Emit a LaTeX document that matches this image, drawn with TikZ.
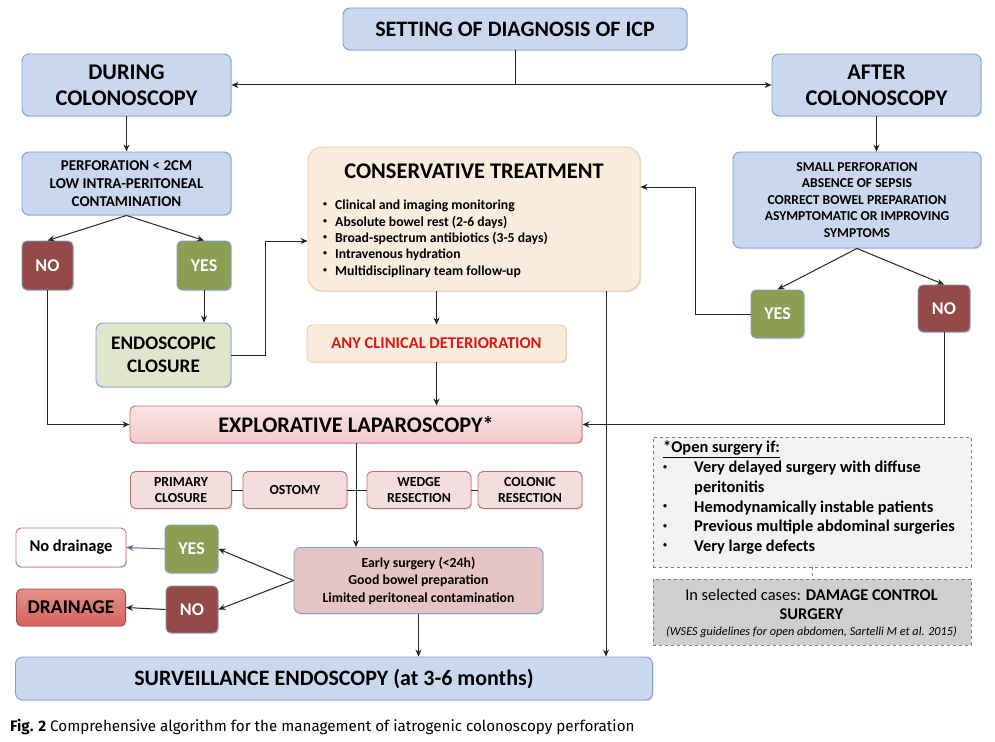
\documentclass[tikz,border=0pt]{standalone}
\usepackage{fontspec}
\setmainfont{Carlito}
\newfontfamily\capfont{Fira Sans}
\usetikzlibrary{arrows.meta,shadows}
\definecolor{bfill}{RGB}{201,216,238}
\definecolor{bdraw}{RGB}{125,158,208}
\definecolor{redbox}{RGB}{148,74,70}
\definecolor{greenbox}{RGB}{140,158,82}
\definecolor{endofill}{RGB}{223,230,203}
\definecolor{consfill}{RGB}{251,237,222}
\definecolor{consdraw}{RGB}{244,200,150}
\definecolor{explfill}{RGB}{244,212,212}
\definecolor{expldraw}{RGB}{200,110,108}
\definecolor{optfill}{RGB}{243,221,221}
\definecolor{earlyfill}{RGB}{230,196,196}
\definecolor{drainfill}{RGB}{215,98,92}
\definecolor{draindraw}{RGB}{170,70,65}
\definecolor{openfill}{RGB}{242,242,242}
\definecolor{dmgfill}{RGB}{207,207,207}
\definecolor{redtext}{RGB}{222,22,22}
\definecolor{purplearrow}{RGB}{105,100,140}
\newcommand{\smallbul}{\raisebox{0.22em}{\fontsize{8}{8}\selectfont\textbullet}}
\begin{document}
\begin{tikzpicture}[x=1pt,y=-1pt,
  box/.style={draw, rounded corners=7pt, line width=0.9pt, align=center, inner sep=0pt,
    font=\bfseries, drop shadow={shadow xshift=1.2pt, shadow yshift=-1.2pt, opacity=0.25}},
  bluebox/.style={box, fill=bfill, draw=bdraw},
  nobox/.style={box, rounded corners=5pt, fill=redbox, draw=bdraw, text=white, font=\bfseries\fontsize{18}{20}\selectfont},
  yesbox/.style={box, rounded corners=5pt, fill=greenbox, draw=bdraw, text=white, font=\bfseries\fontsize{18}{20}\selectfont},
  optbox/.style={box, rounded corners=5pt, fill=optfill, draw=expldraw, font=\bfseries\fontsize{13.8}{16.5}\selectfont},
  conn/.style={line width=1pt, draw=black!85},
  arr/.style={conn, -{Stealth[length=7pt,width=6pt]}},
]
\useasboundingbox (0,0) rectangle (995,741);
\fill[white] (0,0) rectangle (995,741);

% top
\node[bluebox, minimum width=344pt, minimum height=42pt, font=\bfseries\fontsize{22}{24}\selectfont] (set) at (515,29) {SETTING OF DIAGNOSIS OF ICP};
\node[bluebox, minimum width=209pt, minimum height=62pt, font=\bfseries\fontsize{22.4}{26}\selectfont] (during) at (126.5,85) {DURING\\COLONOSCOPY};
\node[bluebox, minimum width=209pt, minimum height=62pt, font=\bfseries\fontsize{22.4}{26}\selectfont] (after) at (876.5,85) {AFTER\\COLONOSCOPY};
\node[bluebox, minimum width=209pt, minimum height=63pt, font=\bfseries\fontsize{15}{18}\selectfont] (perf) at (126.5,183.5) {PERFORATION {<} 2CM\\LOW INTRA-PERITONEAL\\CONTAMINATION};
\node[bluebox, minimum width=248pt, minimum height=96pt, font=\bfseries\fontsize{13.6}{16.5}\selectfont] (small) at (857,200) {SMALL PERFORATION\\ABSENCE OF SEPSIS\\CORRECT BOWEL PREPARATION\\ASYMPTOMATIC OR IMPROVING\\SYMPTOMS};

\node[nobox, minimum width=51pt, minimum height=49pt] (no1) at (47.5,265.5) {NO};
\node[yesbox, minimum width=54pt, minimum height=49pt] (yes1) at (204,265.5) {YES};
\node[box, fill=endofill, draw=bdraw, minimum width=135pt, minimum height=64pt, font=\bfseries\fontsize{19.2}{23}\selectfont] (endo) at (163.5,355) {ENDOSCOPIC\\CLOSURE};

\node[box, rounded corners=14pt, fill=consfill, draw=consdraw, minimum width=332pt, minimum height=144pt] (cons) at (474,219) {};
\node[font=\bfseries\fontsize{22.4}{24}\selectfont, inner sep=0pt] (constitle) at (474,171) {CONSERVATIVE TREATMENT};
\node[font=\bfseries\fontsize{13.7}{16.3}\selectfont, align=left, anchor=north west, inner sep=0pt] (conslist) at (323,200)
  {\makebox[12pt][l]{\smallbul}Clinical and imaging monitoring\\
   \makebox[12pt][l]{\smallbul}Absolute bowel rest (2-6 days)\\
   \makebox[12pt][l]{\smallbul}Broad-spectrum antibiotics (3-5 days)\\
   \makebox[12pt][l]{\smallbul}Intravenous hydration\\
   \makebox[12pt][l]{\smallbul}Multidisciplinary team follow-up};

\node[yesbox, minimum width=53pt, minimum height=48pt] (yes2) at (777.5,314) {YES};
\node[nobox, minimum width=52pt, minimum height=47pt] (no2) at (944,308.5) {NO};

\node[box, rounded corners=5pt, fill=consfill, draw=consdraw, minimum width=259pt, minimum height=37pt, text=redtext, font=\bfseries\fontsize{16.5}{18}\selectfont] (any) at (436.5,343.5) {ANY CLINICAL DETERIORATION};

\node[box, rounded corners=5pt, top color=explfill!60, bottom color=explfill!95!red, draw=expldraw, minimum width=452pt, minimum height=37pt, font=\bfseries\fontsize{22.3}{24}\selectfont] (expl) at (356,424.5) {EXPLORATIVE LAPAROSCOPY*};

\node[optbox, minimum width=101pt, minimum height=37pt] (prim) at (181,490) {PRIMARY\\CLOSURE};
\node[optbox, minimum width=104pt, minimum height=37pt] (ost) at (295,490) {OSTOMY};
\node[optbox, minimum width=104pt, minimum height=37pt] (wedge) at (419,490) {WEDGE\\RESECTION};
\node[optbox, minimum width=104pt, minimum height=37pt] (colon) at (530,490) {COLONIC\\RESECTION};

\node[box, fill=earlyfill, draw=bdraw, minimum width=249pt, minimum height=66pt, font=\bfseries\fontsize{13.8}{17.5}\selectfont] (early) at (418.5,580.5) {Early surgery (<24h)\\Good bowel preparation\\Limited peritoneal contamination};

\node[yesbox, minimum width=53pt, minimum height=48pt] (yes3) at (191.5,549) {YES};
\node[nobox, minimum width=52pt, minimum height=47pt] (no3) at (192,609.5) {NO};
\node[box, rounded corners=5pt, fill=white, draw=expldraw, minimum width=110pt, minimum height=39pt, font=\bfseries\fontsize{16.5}{18}\selectfont] (nodr) at (71,547.5) {No drainage};
\node[box, rounded corners=5pt, top color=drainfill!70, bottom color=drainfill, draw=draindraw, minimum width=109pt, minimum height=37pt, font=\bfseries\fontsize{19.5}{21}\selectfont] (drain) at (71,607.5) {DRAINAGE};

\node[bluebox, minimum width=637pt, minimum height=43pt, font=\bfseries\fontsize{22}{24}\selectfont] (surv) at (334,678.5) {SURVEILLANCE ENDOSCOPY (at 3-6 months)};

\node[draw=gray, dashed, fill=openfill, minimum width=318pt, minimum height=130pt, inner sep=0pt] (open) at (812,502) {};
\node[font=\bfseries\fontsize{16.4}{19.7}\selectfont, align=left, anchor=north west, inner sep=0pt] (opentext) at (663,441)
  {\underline{*Open surgery if:}\\
   \makebox[31pt][l]{\smallbul}Very delayed surgery with diffuse\\
   \hspace*{31pt}peritonitis\\
   \makebox[31pt][l]{\smallbul}Hemodynamically instable patients\\
   \makebox[31pt][l]{\smallbul}Previous multiple abdominal surgeries\\
   \makebox[31pt][l]{\smallbul}Very large defects};
\node[draw=gray, dashed, fill=dmgfill, minimum width=318pt, minimum height=66pt, inner sep=0pt] (dmg) at (812,612) {};
\node[font=\fontsize{16.4}{19}\selectfont, align=center, inner sep=0pt] (dmgtext) at (811.5,604) {In selected cases: \textbf{DAMAGE CONTROL}\\\textbf{SURGERY}};
\node[font=\itshape\fontsize{12.2}{14}\selectfont, inner sep=0pt] (dmgref) at (811.5,632) {(WSES guidelines for open abdomen, Sartelli M et al. 2015)};

\node[anchor=west, inner sep=0pt, font=\capfont\fontsize{15.2}{17}\selectfont] (cap) at (10,727) {\textbf{Fig. 2} Comprehensive algorithm for the management of iatrogenic colonoscopy perforation};

% connectors
\coordinate (jt) at (set.south |- during.east);
\draw[conn] (set.south) -- (jt);
\draw[arr, {Stealth[length=7pt,width=6pt]}-{Stealth[length=7pt,width=6pt]}] (during.east) -- (after.west);
\draw[arr] (during.south) -- (perf.north);
\draw[arr] (after.south) -- (after.south |- small.north);
\draw[arr] (perf.south) -- (no1.north);
\draw[arr] (perf.south) -- (yes1.north);
\draw[arr] (yes1.south) -- (yes1.south |- endo.north);
\coordinate (c1) at (265,241);
\draw[arr] (endo.east) -| (c1) -- (c1 -| cons.west);
\draw[arr] (any.north |- cons.south) -- (any.north);
\draw[arr] (any.south) -- (any.south |- expl.north);
\draw[arr] (no1.south) |- (expl.west);
\draw[arr] (no2.south) |- (expl.east);
\draw[arr] (small.south) -- (yes2.north);
\draw[arr] (small.south) -- (no2.north);
\coordinate (c2) at (695,187);
\draw[arr] (yes2.west) -| (c2) -- (c2 -| cons.east);
\coordinate (c3) at (606,300);
\draw[arr] (c3 |- cons.south) -- (c3 |- surv.north);
\draw[arr] (expl.south) -- (expl.south |- early.north);
\draw[conn] (prim.east) -- (ost.west);
\draw[conn] (ost.east) -- (wedge.west);
\draw[conn] (wedge.east) -- (colon.west);
\draw[arr] (early.west) -- (yes3.east);
\draw[arr] (early.west) -- (no3.east);
\draw[arr, draw=purplearrow] (yes3.west) -- (nodr.east);
\draw[arr] (no3.west) -- (drain.east);
\draw[arr] (early.south) -- (early.south |- surv.north);
\draw[gray, dashed, line width=0.8pt] (open.south) -- (dmg.north);
\end{tikzpicture}
\end{document}
